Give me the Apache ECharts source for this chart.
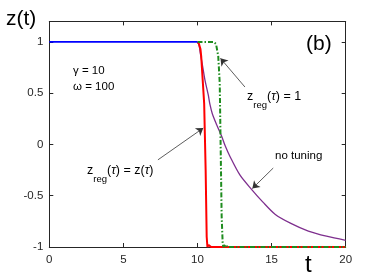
<!DOCTYPE html>
<html>
<head>
<meta charset="utf-8">
<script src="https://cdn.jsdelivr.net/npm/echarts@6/dist/echarts.min.js"></script>
<style>html,body{margin:0;padding:0;background:#fff}#c{width:382px;height:278px}</style>
</head>
<body>
<div id="c"></div>
<script>
// ---- data ----
var xTicks = [0, 5, 10, 15, 20];
var yTicks = [-1, -0.5, 0, 0.5, 1];

var blueT = [0, 10];
var blueZ = [1, 1];

var noTuneT = [10, 10.1, 10.2, 10.35, 10.5, 10.73, 10.84, 11.0, 11.3, 11.63, 11.86, 12.2, 12.87, 13.66, 14.4, 15.23, 16.3, 17.48, 18.7, 20];
var noTuneZ = [1, 0.97, 0.88, 0.76, 0.63, 0.48, 0.39, 0.30, 0.19, 0.08, -0.01, -0.12, -0.30, -0.44, -0.56, -0.68, -0.77, -0.845, -0.895, -0.935];

var regZT = [10, 10.1, 10.2, 10.25, 10.45, 10.55, 10.62, 10.67, 10.75, 10.8, 10.86, 10.92, 20];
var regZZ = [1, 0.98, 0.93, 0.86, 0.40, -0.25, -0.90, -1, -0.98, -0.975, -0.99, -1, -1];

var reg1T = [10, 11.1, 11.25, 11.4, 11.5, 11.56, 11.63, 11.7, 11.75, 11.85, 11.92, 12.0, 20];
var reg1Z = [1, 1, 0.98, 0.86, 0.6, 0.0, -0.7, -0.97, -1, -0.985, -0.975, -1, -1];

// annotation arrows (tail -> head) in data coordinates
var arrowReg1 = [[13.2, 0.56], [11.55, 0.84]];
var arrowRegZ = [[7.33, -0.15], [10.39, 0.16]];
var arrowNoTune = [[15.11, -0.23], [13.7, -0.43]];

function pairs(t, z) { return t.map(function (v, i) { return [v, z[i]]; }); }

var font = '"Liberation Sans", Arial, Helvetica, sans-serif';
var axisCol = '#262626';

var chart = echarts.init(document.getElementById('c'), null, {renderer: 'canvas'});

function arrowLine(a) {
  return [{coord: a[0]}, {coord: a[1]}];
}

var option = {
  animation: false,
  backgroundColor: '#fff',
  grid: {left: 49.3, right: 36.3, top: 21.4, bottom: 31, containLabel: false},
  xAxis: [{
    type: 'value', min: xTicks[0], max: xTicks[xTicks.length - 1], interval: 5, position: 'bottom',
    axisLine: {onZero: false, lineStyle: {color: axisCol, width: 1}},
    axisTick: {inside: true, length: 4, lineStyle: {color: axisCol}},
    axisLabel: {color: axisCol, fontFamily: font, fontSize: 11.5, margin: 7},
    splitLine: {show: false}
  }, {
    type: 'value', min: xTicks[0], max: xTicks[xTicks.length - 1], interval: 5, position: 'top',
    axisLine: {onZero: false, lineStyle: {color: axisCol, width: 1}},
    axisTick: {inside: true, length: 4, lineStyle: {color: axisCol}},
    axisLabel: {show: false}, splitLine: {show: false}
  }],
  yAxis: [{
    type: 'value', min: yTicks[0], max: 1.2, interval: 0.5, position: 'left',
    axisLine: {onZero: false, lineStyle: {color: axisCol, width: 1}},
    axisTick: {inside: true, length: 4, lineStyle: {color: axisCol}},
    axisLabel: {color: axisCol, fontFamily: font, fontSize: 11.5, margin: 6, showMaxLabel: false,
      formatter: function (v) { return yTicks.indexOf(v) >= 0 ? String(v) : ''; }},
    splitLine: {show: false}
  }, {
    type: 'value', min: yTicks[0], max: 1.2, interval: 0.5, position: 'right',
    axisLine: {onZero: false, lineStyle: {color: axisCol, width: 1}},
    axisTick: {inside: true, length: 4, lineStyle: {color: axisCol}},
    axisLabel: {show: false}, splitLine: {show: false}
  }],
  series: [{
    name: 'no tuning', type: 'line', data: pairs(noTuneT, noTuneZ), showSymbol: false, symbol: 'none',
    smooth: 0.3,
    lineStyle: {color: '#7e2f8e', width: 1.3}, z: 2
  }, {
    name: 'zreg=z', type: 'line', data: pairs(regZT, regZZ), showSymbol: false, symbol: 'none',
    lineStyle: {color: '#ff0000', width: 2}, z: 3
  }, {
    name: 'zreg=1', type: 'line', data: pairs(reg1T, reg1Z), showSymbol: false, symbol: 'none',
    lineStyle: {color: '#1e8c1e', width: 2, type: [5, 2, 1.5, 2]}, z: 4
  }, {
    name: 'before', type: 'line', data: pairs(blueT, blueZ), showSymbol: false, symbol: 'none',
    lineStyle: {color: '#0000ff', width: 1.6}, z: 5
  }, {
    name: 'arrows', type: 'line', data: [], z: 6,
    markLine: {
      silent: true, animation: false,
      symbol: ['none', 'arrow'], symbolSize: 7,
      label: {show: false},
      lineStyle: {color: '#333', width: 0.8, type: 'solid'},
      itemStyle: {color: '#111'},
      data: [arrowLine(arrowReg1), arrowLine(arrowRegZ), arrowLine(arrowNoTune)]
    }
  }],
  graphic: [
    {type: 'text', left: 6, top: 9, style: {text: 'z(t)', font: '21px ' + font, fill: '#000'}},
    {type: 'text', left: 306, top: 34, style: {text: '(b)', font: '21px ' + font, fill: '#000'}},
    {type: 'text', left: 305, top: 253, style: {text: 't', font: '24px ' + font, fill: '#000'}},
    {type: 'text', left: 73, top: 65, style: {text: 'γ = 10', font: '11.5px ' + font, fill: '#000'}},
    {type: 'text', left: 73, top: 81, style: {text: 'ω = 100', font: '11.5px ' + font, fill: '#000'}},
    {type: 'text', left: 275, top: 150, style: {text: 'no tuning', font: '11.5px ' + font, fill: '#000'}},
    {type: 'text', left: 247, top: 90, style: {
      text: '{m|z}{s|reg}{m|(}{i|τ}{m|) = 1}',
      rich: {
        m: {fontSize: 12.5, fontFamily: font, color: '#000', lineHeight: 20, verticalAlign: 'top'},
        i: {fontSize: 12.5, fontFamily: font, fontStyle: 'italic', color: '#000', lineHeight: 20, verticalAlign: 'top'},
        s: {fontSize: 9.5, fontFamily: font, color: '#000', lineHeight: 20, verticalAlign: 'bottom'}
      }
    }},
    {type: 'text', left: 87, top: 164, style: {
      text: '{m|z}{s|reg}{m|(}{i|τ}{m|) = z(}{i|τ}{m|)}',
      rich: {
        m: {fontSize: 12.5, fontFamily: font, color: '#000', lineHeight: 20, verticalAlign: 'top'},
        i: {fontSize: 12.5, fontFamily: font, fontStyle: 'italic', color: '#000', lineHeight: 20, verticalAlign: 'top'},
        s: {fontSize: 9.5, fontFamily: font, color: '#000', lineHeight: 20, verticalAlign: 'bottom'}
      }
    }}
  ]
};
chart.setOption(option);
</script>
</body>
</html>
